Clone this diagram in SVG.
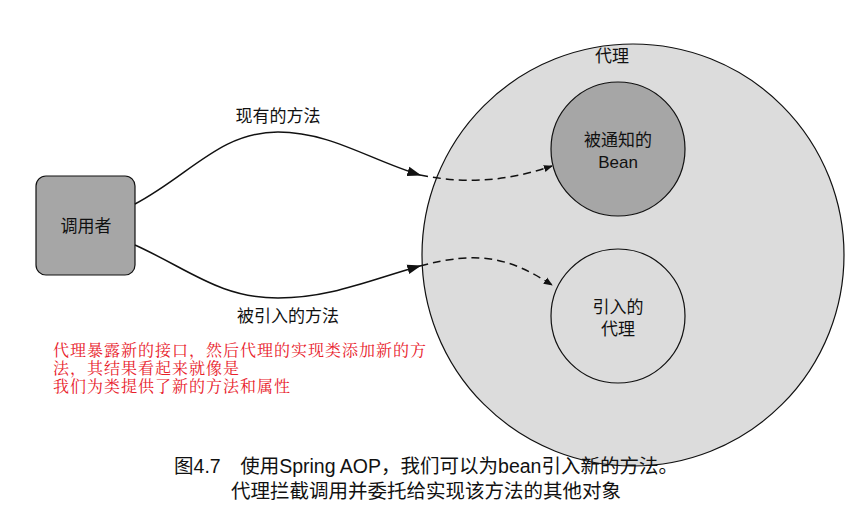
<svg xmlns="http://www.w3.org/2000/svg" width="852" height="511" viewBox="0 0 852 511">
<style>
.t{font-family:"Liberation Sans","Noto Sans CJK SC",sans-serif;fill:#111;font-size:17px;text-anchor:middle}
.r{font-family:"Liberation Serif","Noto Serif CJK SC","Noto Sans CJK SC",serif;fill:#e8202a;font-size:16px;letter-spacing:1px}
.c{font-family:"Liberation Sans","Noto Sans CJK SC",sans-serif;fill:#111;font-size:19.5px;text-anchor:middle}
.l{fill:none;stroke:#111;stroke-width:1.5}
.d{fill:none;stroke:#111;stroke-width:1.5;stroke-dasharray:8 5}
</style>
<defs><marker id="a" viewBox="0 0 10 10" refX="9" refY="5" markerWidth="9" markerHeight="9" markerUnits="userSpaceOnUse" orient="auto"><path d="M0,1 L10,5 L0,9 z" fill="#111"/></marker>
<marker id="b" viewBox="0 0 10 10" refX="9" refY="5" markerWidth="14" markerHeight="14" markerUnits="userSpaceOnUse" orient="auto"><path d="M0,1.5 L10,5 L0,8.5 z" fill="#111"/></marker></defs>
<g id="proxy"><circle cx="633" cy="255" r="211" fill="#dcdcdc" stroke="#111" stroke-width="1.2"/><text class="t" x="612" y="62">代理</text></g>
<g id="bean"><circle cx="618" cy="149" r="67" fill="#a6a6a6" stroke="#111" stroke-width="1.2"/><text class="t" x="618" y="146">被通知的</text><text class="t" x="618" y="168">Bean</text></g>
<g id="intro"><circle cx="618" cy="316" r="67" fill="#dcdcdc" stroke="#111" stroke-width="1.2"/><text class="t" x="618" y="313">引入的</text><text class="t" x="618" y="335">代理</text></g>
<g id="caller"><rect x="36" y="176" width="99" height="99" rx="10" fill="#a6a6a6" stroke="#111" stroke-width="1.2"/><text class="t" x="86" y="232">调用者</text></g>
<g id="connectors">
<path class="l" d="M135,204 C190,175 220,132 278,132 C330,132 370,160 420,175" marker-end="url(#b)"/>
<path class="d" d="M420,175 C470,185 510,180 552,166" marker-end="url(#a)"/>
<path class="l" d="M135,245 C190,270 220,298 278,298 C330,298 370,280 420,266" marker-end="url(#b)"/>
<path class="d" d="M420,266 C480,250 510,258 552,285" marker-end="url(#a)"/>
</g>
<text class="t" x="278" y="122">现有的方法</text>
<text class="t" x="288" y="322">被引入的方法</text>
<text class="r" x="53" y="356">代理暴露新的接口，然后代理的实现类添加新的方</text>
<text class="r" x="53" y="374">法，其结果看起来就像是</text>
<text class="r" x="53" y="392">我们为类提供了新的方法和属性</text>
<text class="c" x="426" y="473">图4.7　使用Spring AOP，我们可以为bean引入新的方法。</text>
<text class="c" x="426" y="498">代理拦截调用并委托给实现该方法的其他对象</text>
</svg>
